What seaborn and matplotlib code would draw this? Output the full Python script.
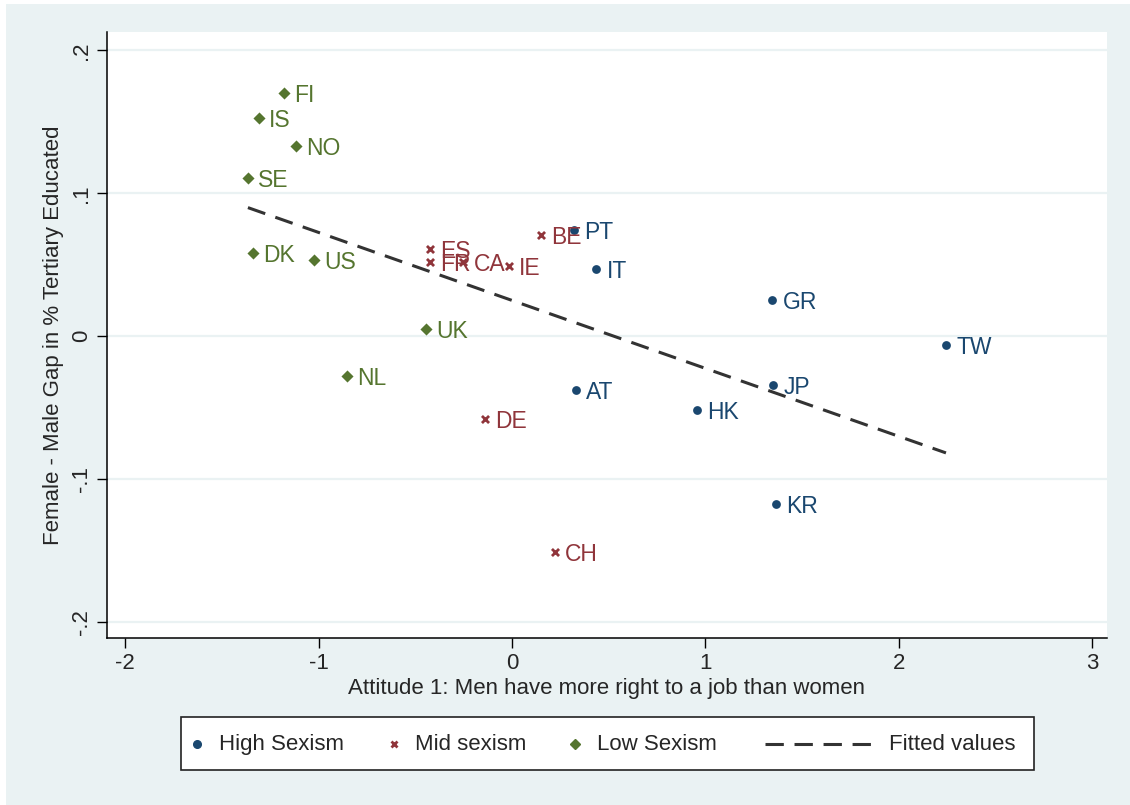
import numpy as np
import pandas as pd
import matplotlib
matplotlib.use("Agg")
import matplotlib.pyplot as plt
from matplotlib.patches import Rectangle
from matplotlib.lines import Line2D
import seaborn as sns

# Country codes, attitude score (x) and female-male tertiary gap (y)
high_codes = ["PT", "IT", "GR", "TW", "JP", "HK", "AT", "KR"]
high_x = [0.321, 0.435, 1.345, 2.245, 1.350, 0.957, 0.331, 1.366]
high_y = [0.074, 0.047, 0.025, -0.006, -0.034, -0.052, -0.038, -0.118]

mid_codes = ["ES", "FR", "CA", "IE", "BE", "DE", "CH"]
mid_x = [-0.424, -0.424, -0.253, -0.016, 0.150, -0.140, 0.222]
mid_y = [0.061, 0.052, 0.052, 0.049, 0.071, -0.058, -0.151]

low_codes = ["FI", "IS", "NO", "SE", "DK", "US", "UK", "NL"]
low_x = [-1.180, -1.309, -1.117, -1.366, -1.340, -1.024, -0.445, -0.854]
low_y = [0.170, 0.153, 0.133, 0.111, 0.058, 0.053, 0.005, -0.028]

group_names = ["High Sexism", "Mid sexism", "Low Sexism"]
x_ticks = [-2, -1, 0, 1, 2, 3]
y_ticks = [-0.2, -0.1, 0.0, 0.1, 0.2]
y_tick_labels = ["-.2", "-.1", "0", ".1", ".2"]

df = pd.DataFrame({
    "code": high_codes + mid_codes + low_codes,
    "x": high_x + mid_x + low_x,
    "y": high_y + mid_y + low_y,
    "group": [group_names[0]] * len(high_codes)
    + [group_names[1]] * len(mid_codes)
    + [group_names[2]] * len(low_codes),
})

navy = "#1a476f"
maroon = "#90353b"
green = "#55752f"
bg = "#eaf2f3"
colors = {group_names[0]: navy, group_names[1]: maroon, group_names[2]: green}

sns.set_style("white")
plt.rcParams["font.family"] = ["Liberation Sans", "DejaVu Sans"]

fig = plt.figure(figsize=(11.3, 8.05), dpi=100, facecolor="white")
fig.patches.append(Rectangle((6 / 1130, 0), 1, 1 - 4 / 805, transform=fig.transFigure,
                             facecolor=bg, edgecolor="none", zorder=-10))
ax = fig.add_axes([107 / 1130, 1 - 638 / 805, 1000 / 1130, 606 / 805])
ax.set_facecolor("white")

# grid lines at the y ticks
for yv in y_ticks:
    ax.axhline(yv, color=bg, lw=1.6, zorder=0)

# fitted regression line across all countries
sns.regplot(data=df, x="x", y="y", scatter=False, ci=None, truncate=True, ax=ax,
            line_kws=dict(color="#333333", lw=2.2, ls=(0, (6, 3.5)), zorder=2))

marker_styles = {
    group_names[0]: dict(marker="o", s=40, linewidth=0),
    group_names[1]: dict(marker="x", s=26, linewidth=2.0),
    group_names[2]: dict(marker="D", s=38, linewidth=0),
}
for g in group_names:
    sub = df[df["group"] == g]
    sns.scatterplot(data=sub, x="x", y="y", color=colors[g], ax=ax, legend=False,
                    zorder=3, **marker_styles[g])
    for _, r in sub.iterrows():
        ax.annotate(r["code"], (r["x"], r["y"]), xytext=(7.5, 0), textcoords="offset points",
                    va="center_baseline", ha="left", fontsize=16.5, color=colors[g], zorder=4)

ax.set_xlim(-2.095, 3.078)
ax.set_ylim(-0.2115, 0.2129)
ax.set_xticks(x_ticks)
ax.set_xticklabels([str(v) for v in x_ticks])
ax.set_yticks(y_ticks)
ax.set_yticklabels(y_tick_labels, rotation=90, va="center")
ax.tick_params(axis="both", direction="out", length=7, width=1, color="black",
               labelsize=16, pad=4, left=True, bottom=True)
for side in ["top", "right"]:
    ax.spines[side].set_visible(False)
for side in ["left", "bottom"]:
    ax.spines[side].set_color("black")
    ax.spines[side].set_linewidth(1.1)

ax.set_xlabel("Attitude 1: Men have more right to a job than women", fontsize=16, labelpad=3)
ax.set_ylabel("Female - Male Gap in % Tertiary Educated", fontsize=16, labelpad=5)

# legend box along the bottom
W, H = 1130, 805
def fx(px):
    return px / W
def fy(py):
    return 1 - py / H

fig.patches.append(Rectangle((fx(181), fy(770)), fx(1034) - fx(181), fy(717) - fy(770),
                             transform=fig.transFigure, facecolor="white",
                             edgecolor="#222222", lw=1.2, zorder=5))
ly = fy(744)
entries = [
    (197, 219, group_names[0], dict(marker="o", markersize=5.5, color=navy, linestyle="none")),
    (394, 415, group_names[1], dict(marker="x", markersize=4.5, mew=2, color=maroon, linestyle="none")),
    (575, 597, group_names[2], dict(marker="D", markersize=5, color=green, linestyle="none")),
]
for mx, tx, label, kw in entries:
    fig.lines.append(Line2D([fx(mx)], [ly], transform=fig.transFigure, zorder=6, **kw))
    fig.text(fx(tx), ly, label, fontsize=16, va="center", ha="left", zorder=6)
fig.lines.append(Line2D([fx(765), fx(871)], [ly, ly], transform=fig.transFigure,
                        color="#333333", lw=2.2, ls=(0, (6, 3.5)), zorder=6))
fig.text(fx(889), ly, "Fitted values", fontsize=16, va="center", ha="left", zorder=6)

fig.savefig("out.png", dpi=100, facecolor=fig.get_facecolor())
